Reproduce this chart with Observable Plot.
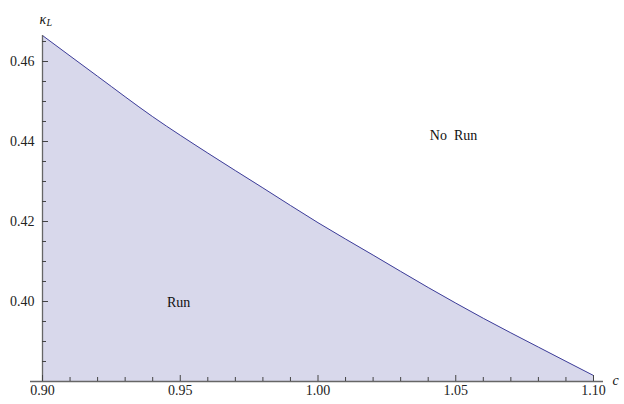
<!DOCTYPE html>
<html>
<head>
<meta charset="utf-8">
<script src="https://cdn.jsdelivr.net/npm/d3@7"></script>
<script src="https://cdn.jsdelivr.net/npm/@observablehq/plot@0.6"></script>
<style>
  html, body { margin: 0; padding: 0; background: #fff; }
  #chart svg { display: block; }
  #chart svg text { font-family: 'Liberation Serif', 'Times New Roman', serif; }
</style>
</head>
<body>
<div id="chart"></div>
<script>
// Boundary curve κ_L(c)
const cValues = [0.90, 0.92, 0.94, 0.96, 0.98, 1.00, 1.02, 1.04, 1.06, 1.08, 1.10];
const kappaValues = [0.4665, 0.4563, 0.4462, 0.4371, 0.4284, 0.4197, 0.4116, 0.4035, 0.3958, 0.3886, 0.3815];

const xMajorTicks = [0.90, 0.95, 1.00, 1.05, 1.10];
const xMinorTicks = [0.91, 0.92, 0.93, 0.94, 0.96, 0.97, 0.98, 0.99, 1.01, 1.02, 1.03, 1.04, 1.06, 1.07, 1.08, 1.09];
const yMajorTicks = [0.40, 0.42, 0.44, 0.46];
const yMinorTicks = [0.385, 0.39, 0.395, 0.405, 0.41, 0.415, 0.425, 0.43, 0.435, 0.445, 0.45, 0.455, 0.465];

const regionLabels = ["Run", "No\u00a0 Run"];
const regionX = [0.9494, 1.0492];
const regionY = [0.39975, 0.4415];

const xDomain = [0.90, 1.10];
const yDomain = [0.38, 0.4665];

const curve = cValues.map((c, i) => ({c, k: kappaValues[i]}));
const labels = regionLabels.map((t, i) => ({t, x: regionX[i], y: regionY[i]}));

const serif = "'Liberation Serif', 'Times New Roman', serif";
const axisColor = "#666";

const chart = Plot.plot({
  width: 624,
  height: 404,
  marginLeft: 42,
  marginRight: 31,
  marginTop: 35,
  marginBottom: 23,
  style: {fontFamily: serif, fontSize: "13px", color: "#222", background: "#fff"},
  x: {domain: xDomain},
  y: {domain: yDomain},
  marks: [
    Plot.areaY(curve, {x: "c", y1: () => yDomain[0], y2: "k", fill: "#d8d8eb", curve: "monotone-x"}),
    Plot.lineY(curve, {x: "c", y: "k", stroke: "#3d3d99", strokeWidth: 1, curve: "monotone-x"}),
    // axis lines
    Plot.ruleY([yDomain[0]], {stroke: axisColor, strokeWidth: 1.3, insetLeft: -12, insetRight: -10}),
    Plot.ruleX([xDomain[0]], {stroke: axisColor, strokeWidth: 1.3}),
    // x ticks (inward)
    Plot.axisX({ticks: xMajorTicks, tickSize: -6, tickFormat: () => "", label: null, stroke: "#444"}),
    Plot.axisX({ticks: xMinorTicks, tickSize: -4, tickFormat: () => "", label: null, stroke: "#444"}),
    Plot.axisX({ticks: xMajorTicks, tickSize: 0, tickPadding: 4, tickFormat: d3.format(".2f"), label: null, fontSize: 14, fontFamily: serif, fill: "#222"}),
    // y ticks (inward)
    Plot.axisY({ticks: yMajorTicks, tickSize: -6, tickFormat: () => "", label: null, stroke: "#444"}),
    Plot.axisY({ticks: yMinorTicks, tickSize: -4, tickFormat: () => "", label: null, stroke: "#444"}),
    Plot.axisY({ticks: yMajorTicks, tickSize: 0, tickPadding: 8, tickFormat: d3.format(".2f"), label: null, fontSize: 14, fontFamily: serif, fill: "#222"}),
    // region labels
    Plot.text(labels, {x: "x", y: "y", text: "t", fontSize: 14, fill: "#111", fontFamily: serif}),
    // axis labels
    Plot.text(["κ"], {frameAnchor: "top-left", dx: -3, dy: -21, fontSize: 14, fontStyle: "italic", fill: "#111", textAnchor: "start", fontFamily: serif}),
    Plot.text(["L"], {frameAnchor: "top-left", dx: 4, dy: -17, fontSize: 10, fontStyle: "italic", fill: "#111", textAnchor: "start", fontFamily: serif}),
    Plot.text(["c"], {frameAnchor: "bottom-right", dx: 19, dy: 3, fontSize: 14, fontStyle: "italic", fill: "#111", textAnchor: "start", fontFamily: serif})
  ]
});
document.getElementById("chart").appendChild(chart);
</script>
</body>
</html>
